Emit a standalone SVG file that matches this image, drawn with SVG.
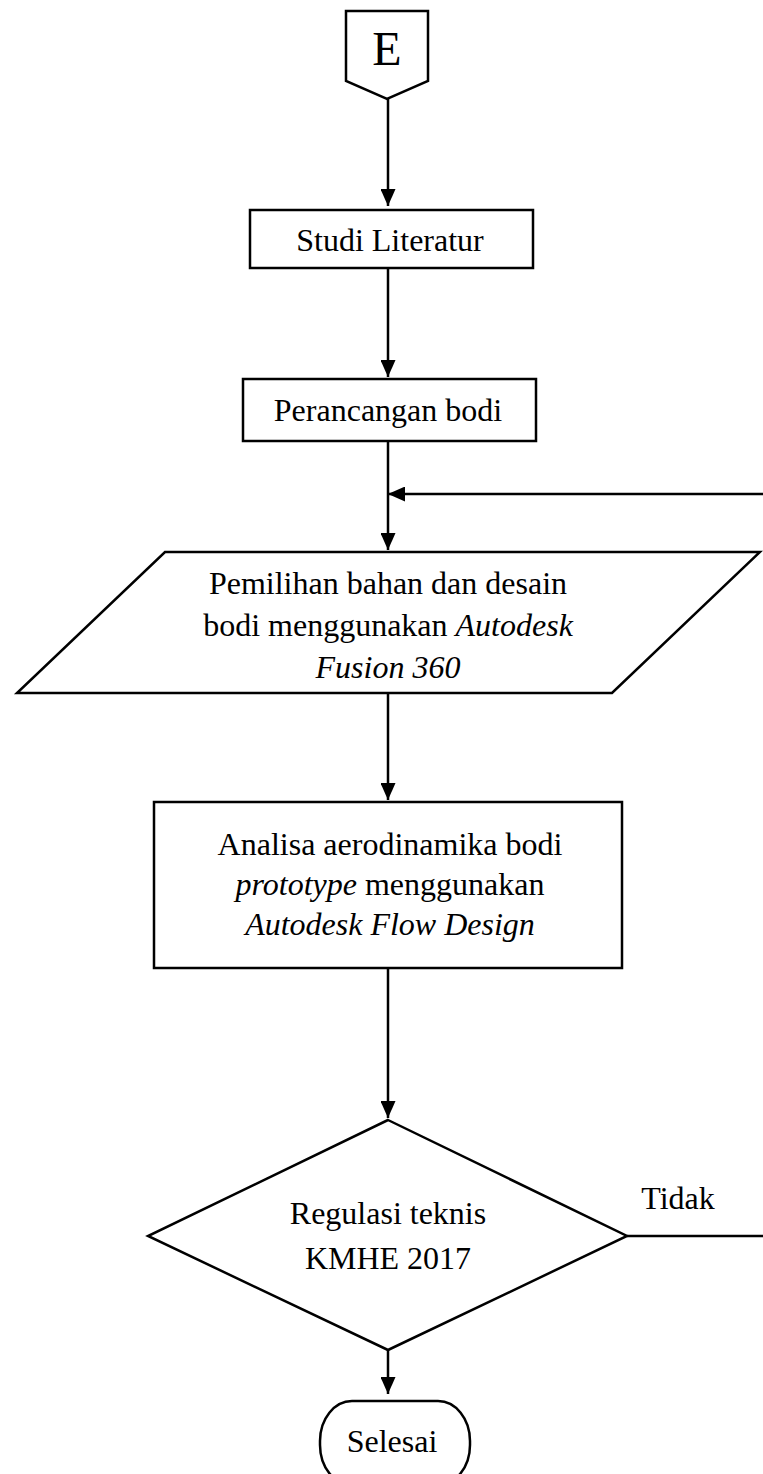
<svg xmlns="http://www.w3.org/2000/svg" width="763" height="1474" viewBox="0 0 763 1474">
<style>
.s{fill:#fff;stroke:#000;stroke-width:2.5}
.c{fill:none;stroke:#000;stroke-width:2.5}
.t{font-family:"Liberation Serif","Times New Roman",serif;font-size:32px;fill:#000;text-anchor:middle}
.i{font-style:italic}
</style>
<defs>
<marker id="ah" markerWidth="17" markerHeight="15" refX="17" refY="7.5" orient="auto" markerUnits="userSpaceOnUse">
<path d="M0,0 L17,7.5 L0,15 Z" fill="#000"/>
</marker>
</defs>
<rect width="763" height="1474" fill="#fff"/>
<g id="connectors">
<line class="c" x1="388" y1="99" x2="388" y2="206" marker-end="url(#ah)"/>
<line class="c" x1="388" y1="268" x2="388" y2="377" marker-end="url(#ah)"/>
<line class="c" x1="388" y1="441" x2="388" y2="550" marker-end="url(#ah)"/>
<line class="c" x1="763" y1="494" x2="388" y2="494" marker-end="url(#ah)"/>
<line class="c" x1="388" y1="693" x2="388" y2="800" marker-end="url(#ah)"/>
<line class="c" x1="388" y1="968" x2="388" y2="1118" marker-end="url(#ah)"/>
<line class="c" x1="627" y1="1236" x2="763" y2="1236"/>
<line class="c" x1="388" y1="1350" x2="388" y2="1394" marker-end="url(#ah)"/>
<text class="t" x="678" y="1209">Tidak</text>
<text class="t" x="356" y="1321">Ya</text>
</g>
<g id="node-E">
<path class="s" d="M346,11 L428,11 L428,81 L387,99 L346,81 Z"/>
<text class="t" x="387" y="65" style="font-size:48px">E</text>
</g>
<g id="node-studi">
<rect class="s" x="250" y="210" width="283" height="58"/>
<text class="t" x="390" y="251">Studi Literatur</text>
</g>
<g id="node-perancangan">
<rect class="s" x="243" y="379" width="293" height="62"/>
<text class="t" x="388" y="421">Perancangan bodi</text>
</g>
<g id="node-pemilihan">
<path class="s" d="M165,552 L760,552 L612,693 L17,693 Z"/>
<text class="t" x="388" y="594">Pemilihan bahan dan desain</text>
<text class="t" x="388" y="636">bodi menggunakan <tspan class="i">Autodesk</tspan></text>
<text class="t i" x="388" y="678">Fusion 360</text>
</g>
<g id="node-analisa">
<rect class="s" x="154" y="802" width="468" height="166"/>
<text class="t" x="390" y="855">Analisa aerodinamika bodi</text>
<text class="t" x="390" y="895"><tspan class="i">prototype</tspan> menggunakan</text>
<text class="t i" x="390" y="935">Autodesk Flow Design</text>
</g>
<g id="node-regulasi">
<path class="s" d="M388,1120 L627,1236 L388,1350 L148,1236 Z"/>
<text class="t" x="388" y="1224">Regulasi teknis</text>
<text class="t" x="388" y="1269">KMHE 2017</text>
</g>
<g id="node-selesai">
<rect class="s" x="320" y="1401" width="150" height="84" rx="32" ry="40"/>
<text class="t" x="392" y="1452">Selesai</text>
</g>
</svg>
